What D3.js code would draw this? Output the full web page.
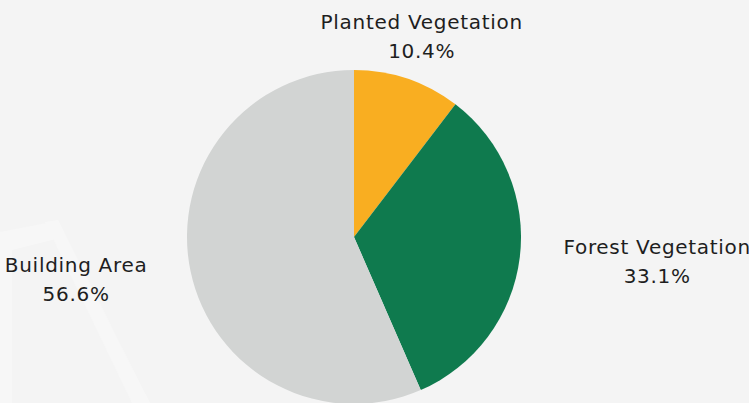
<!DOCTYPE html>
<html>
<head>
<meta charset="utf-8">
<script src="https://cdn.jsdelivr.net/npm/d3@7"></script>
<style>
  html, body { margin: 0; padding: 0; background: #f4f4f4; overflow: hidden; }
  svg { display: block; }
</style>
</head>
<body>
<script>
// données du graphique
const categories = ['Planted Vegetation', 'Forest Vegetation', 'Building Area'];
const values = [10.4, 33.1, 56.6];
const colors = ['#f9ae21', '#0f7a4e', '#d2d4d3'];
const valueLabels = ['10.4%', '33.1%', '56.6%'];

const width = 749, height = 403;
const cx = 354, cy = 237, radius = 167, labelRadius = 211;

const svg = d3.select('body').append('svg')
    .attr('width', width)
    .attr('height', height);

// fond clair avec quelques formes pâles (bâtiment flou)
const bg = svg.append('g');
bg.append('rect').attr('width', width).attr('height', height).attr('fill', '#f4f4f4');
bg.append('path')
    .attr('d', 'M0,232 L52,222 L60,238 L12,250 L12,403 L0,403 Z')
    .attr('fill', '#f7f7f7');
bg.append('path')
    .attr('d', 'M45,222 L58,220 L150,403 L132,403 Z')
    .attr('fill', '#f7f7f7');

const data = categories.map((c, i) => ({ name: c, value: values[i], color: colors[i], label: valueLabels[i] }));

const pie = d3.pie().value(d => d.value).sort(null);
const arc = d3.arc().innerRadius(0).outerRadius(radius);

const g = svg.append('g').attr('transform', `translate(${cx},${cy})`);

const arcs = pie(data);

g.selectAll('path.slice')
    .data(arcs)
    .join('path')
    .attr('class', 'slice')
    .attr('d', arc)
    .attr('fill', d => d.data.color);

// étiquettes
const labels = g.selectAll('g.label')
    .data(arcs)
    .join('g')
    .attr('class', 'label')
    .style('font-family', '"DejaVu Sans", sans-serif')
    .style('font-size', '20px')
    .style('letter-spacing', '0.7px')
    .attr('fill', '#1e1e1e');

labels.each(function (d) {
    const a = (d.startAngle + d.endAngle) / 2;
    const x = labelRadius * Math.sin(a);
    const y = -labelRadius * Math.cos(a);
    const el = d3.select(this);
    const t1 = el.append('text').attr('text-anchor', 'middle').attr('y', y - 8).text(d.data.name);
    const t2 = el.append('text').attr('text-anchor', 'middle').attr('y', y + 21).text(d.data.label);
    const w = Math.max(t1.node().getComputedTextLength(), t2.node().getComputedTextLength());
    let xc = x;
    if (Math.sin(a) > 0.5) xc = x + w / 2;
    else if (Math.sin(a) < -0.5) xc = x - w / 2;
    t1.attr('x', xc);
    t2.attr('x', xc);
});
</script>
</body>
</html>
